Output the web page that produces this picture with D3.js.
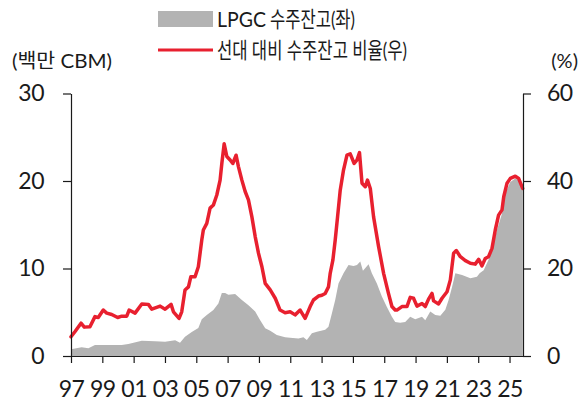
<!DOCTYPE html>
<html>
<head>
<meta charset="utf-8">
<script src="https://cdn.jsdelivr.net/npm/d3@7"></script>
<style>
  html, body { margin: 0; padding: 0; background: #fff; }
  svg { display: block; }
  text { font-family: "Lato", "Noto Sans CJK KR", sans-serif; fill: #1a1a1a; }
</style>
</head>
<body>
<svg id="chart" width="581" height="405"></svg>
<script>
// LPGC order backlog (million CBM), by decimal year
const backlogYears = [
  1997.0, 1997.68, 1998.11, 1998.53, 1999.6, 2000.24, 2000.66, 2001.52, 2002.37, 2003.01,
  2003.65, 2003.96, 2004.28, 2004.71, 2005.13, 2005.35, 2005.67, 2006.09, 2006.41, 2006.63,
  2006.84, 2007.05, 2007.48, 2007.91, 2008.33, 2008.76, 2009.08, 2009.4, 2009.72, 2010.14,
  2010.67, 2010.99, 2011.52, 2011.84, 2012.06, 2012.38, 2012.7, 2013.23, 2013.44, 2013.66,
  2013.87, 2014.08, 2014.4, 2014.72, 2015.04, 2015.26, 2015.47, 2015.64, 2016.0, 2016.21,
  2016.53, 2016.85, 2017.17, 2017.49, 2017.7, 2018.02, 2018.34, 2018.66, 2018.98, 2019.41,
  2019.62, 2019.94, 2020.26, 2020.58, 2020.9, 2021.11, 2021.33, 2021.54, 2021.97, 2022.5,
  2022.92, 2023.09, 2023.35, 2023.66, 2023.88, 2024.2, 2024.52, 2024.73, 2025.05, 2025.37,
  2025.58, 2025.84
];
const backlogCbm = [
  0.77, 1.0, 0.88, 1.26, 1.26, 1.26, 1.37, 1.75, 1.68, 1.64,
  1.8, 1.52, 2.2, 2.75, 3.2, 4.2, 4.7, 5.26, 6.0, 7.2,
  7.2, 7.0, 7.1, 6.4, 5.8, 5.1, 4.1, 3.17, 2.9, 2.4,
  2.13, 2.1, 2.0, 2.13, 1.83, 2.6, 2.78, 3.0, 3.35, 4.9,
  6.4, 8.3, 9.45, 10.4, 10.3, 10.4, 10.8, 9.75, 10.5, 9.45,
  8.3, 6.8, 5.6, 4.5, 3.9, 3.8, 3.9, 4.5, 4.2, 4.5,
  4.1, 5.1, 4.7, 4.6, 5.3, 6.4, 7.9, 9.45, 9.26, 8.9,
  9.06, 9.45, 9.8, 11.0, 12.2, 14.4, 16.3, 18.6, 19.9, 20.3,
  20.1, 19.3
];

// Order backlog as a share of the fleet (%), by decimal year
const ratioYears = [
  1997.0, 1997.26, 1997.64, 1997.85, 1998.21, 1998.53, 1998.74, 1999.06, 1999.28, 1999.6,
  1999.98, 2000.24, 2000.56, 2000.71, 2001.09, 2001.52, 2001.94, 2002.16, 2002.69, 2003.01,
  2003.39, 2003.54, 2003.9, 2004.07, 2004.28, 2004.5, 2004.65, 2004.92, 2005.13, 2005.35,
  2005.45, 2005.67, 2005.88, 2006.09, 2006.31, 2006.52, 2006.63, 2006.78, 2006.95, 2007.16,
  2007.33, 2007.54, 2007.69, 2007.91, 2008.12, 2008.33, 2008.55, 2008.76, 2008.97, 2009.19,
  2009.4, 2009.72, 2010.04, 2010.35, 2010.67, 2010.99, 2011.31, 2011.63, 2011.95, 2012.27,
  2012.48, 2012.8, 2013.02, 2013.23, 2013.44, 2013.55, 2013.72, 2013.87, 2014.02, 2014.19,
  2014.4, 2014.62, 2014.83, 2015.08, 2015.26, 2015.42, 2015.58, 2015.79, 2015.93, 2016.11,
  2016.32, 2016.64, 2016.96, 2017.27, 2017.49, 2017.7, 2017.81, 2018.13, 2018.45, 2018.66,
  2018.87, 2019.09, 2019.41, 2019.62, 2019.83, 2020.05, 2020.15, 2020.47, 2020.69, 2021.01,
  2021.22, 2021.43, 2021.6, 2021.86, 2022.18, 2022.5, 2022.81, 2023.03, 2023.24, 2023.45,
  2023.66, 2023.88, 2024.09, 2024.3, 2024.52, 2024.63, 2024.84, 2025.05, 2025.37, 2025.58,
  2025.84
];
const ratioPct = [
  4.4, 5.6, 7.5, 6.6, 6.7, 9.0, 8.8, 10.5, 9.8, 9.5,
  8.8, 9.1, 9.1, 10.5, 9.8, 11.9, 11.8, 10.7, 11.4, 10.7,
  11.8, 10.1, 8.6, 10.1, 15.1, 15.8, 18.1, 18.1, 20.4, 26.5,
  28.8, 30.3, 33.8, 34.5, 36.8, 40.2, 44.0, 48.5, 45.6, 44.8,
  44.0, 45.9, 43.3, 40.2, 37.6, 35.7, 31.8, 27.3, 23.5, 20.4,
  16.6, 15.1, 13.2, 10.5, 9.9, 10.1, 9.4, 10.5, 8.6, 11.3,
  12.8, 13.7, 13.9, 14.3, 15.8, 18.9, 21.9, 26.5, 31.8, 37.9,
  42.5, 45.9, 46.2, 44.0, 44.8, 46.5, 39.5, 38.7, 40.2, 38.3,
  31.8, 25.0, 18.9, 14.3, 11.3, 10.5, 10.5, 11.3, 11.3, 13.4,
  13.2, 11.4, 12.0, 11.3, 13.0, 14.3, 12.6, 11.9, 13.2, 14.7,
  17.4, 23.5, 24.1, 22.7, 21.8, 21.2, 21.0, 22.1, 20.6, 22.3,
  22.7, 24.6, 28.8, 32.2, 33.4, 36.4, 39.5, 40.6, 41.1, 40.6,
  38.3
];

const xTickYears = [1997, 1999, 2001, 2003, 2005, 2007, 2009, 2011, 2013, 2015, 2017, 2019, 2021, 2023, 2025];
const leftTicks = [0, 10, 20, 30];
const rightTicks = [0, 20, 40, 60];

const legendLatin = "LPGC";
const legendLabels = ["수주잔고(좌)", "선대 대비 수주잔고 비율(우)"];
const leftUnit = "(백만 CBM)";
const rightUnit = "(%)";

const GRAY = "#b3b3b3";
const RED = "#e8202f";

const svg = d3.select("#chart");

const plot = { left: 71, right: 523, top: 93.5, bottom: 356 };

const x = d3.scaleLinear().domain([1997, 2025.86]).range([plot.left, plot.right]);
const yL = d3.scaleLinear().domain([0, 30]).range([plot.bottom, plot.top]);
const yR = d3.scaleLinear().domain([0, 60]).range([plot.bottom, plot.top]);

const backlog = backlogYears.map((t, i) => ({ t, v: backlogCbm[i] }));
const ratio = ratioYears.map((t, i) => ({ t, v: ratioPct[i] }));

// backlog area (left axis)
svg.append("path")
  .datum(backlog)
  .attr("fill", GRAY)
  .attr("d", d3.area().x(d => x(d.t)).y0(yL(0)).y1(d => yL(d.v)));

// backlog/fleet ratio line (right axis)
svg.append("path")
  .datum(ratio)
  .attr("fill", "none")
  .attr("stroke", RED)
  .attr("stroke-width", 3.5)
  .attr("stroke-linejoin", "round")
  .attr("stroke-linecap", "round")
  .attr("d", d3.line().x(d => x(d.t)).y(d => yR(d.v)));

// axes
const axisFont = 23;

const gLeft = svg.append("g")
  .attr("transform", `translate(${plot.left},0)`)
  .call(d3.axisLeft(yL).tickValues(leftTicks).tickSize(8).tickSizeOuter(0).tickPadding(19));

const gRight = svg.append("g")
  .attr("transform", `translate(${plot.right},0)`)
  .call(d3.axisRight(yR).tickValues(rightTicks).tickSize(8).tickSizeOuter(0).tickPadding(16));

const gBottom = svg.append("g")
  .attr("transform", `translate(0,${plot.bottom})`)
  .call(d3.axisBottom(x).tickValues(xTickYears).tickSize(7).tickSizeOuter(0).tickPadding(18)
    .tickFormat(d => String(d % 100).padStart(2, "0")));

[gLeft, gRight, gBottom].forEach(g => {
  g.selectAll("path.domain").attr("stroke", "#1a1a1a").attr("stroke-width", 1.2);
  g.selectAll(".tick line").attr("stroke", "#1a1a1a").attr("stroke-width", 1.2);
  g.selectAll(".tick text")
    .attr("font-family", "Lato, 'Noto Sans CJK KR', sans-serif")
    .attr("font-size", axisFont)
    .attr("letter-spacing", -0.5)
    .attr("fill", "#1a1a1a");
});

// unit labels
svg.append("text").attr("x", 12).attr("y", 68)
  .attr("font-size", 20).attr("textLength", 100).attr("lengthAdjust", "spacingAndGlyphs")
  .text(leftUnit);
svg.append("text").attr("x", 578).attr("y", 68)
  .attr("text-anchor", "end").attr("font-size", 20).text(rightUnit);

// legend
const lg = svg.append("g");
lg.append("rect").attr("x", 158).attr("y", 11).attr("width", 55).attr("height", 16).attr("fill", GRAY);
lg.append("text").attr("x", 217).attr("y", 27).attr("font-size", 22)
  .attr("textLength", 49).attr("lengthAdjust", "spacingAndGlyphs").text(legendLatin);
lg.append("text").attr("x", 270).attr("y", 27).attr("font-size", 22)
  .attr("textLength", 85).attr("lengthAdjust", "spacingAndGlyphs").text(legendLabels[0]);
lg.append("line").attr("x1", 158).attr("x2", 213).attr("y1", 50).attr("y2", 50)
  .attr("stroke", RED).attr("stroke-width", 3);
lg.append("text").attr("x", 217).attr("y", 58).attr("font-size", 22)
  .attr("textLength", 190).attr("lengthAdjust", "spacingAndGlyphs").text(legendLabels[1]);
</script>
</body>
</html>
